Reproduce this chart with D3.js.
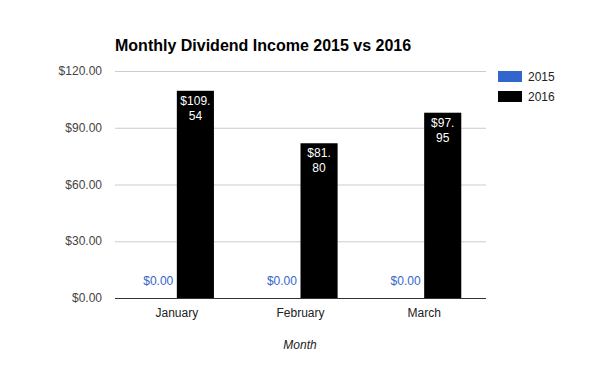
<!DOCTYPE html>
<html><head><meta charset="utf-8">
<script src="https://cdn.jsdelivr.net/npm/d3@7"></script>
<style>body{margin:0;background:#fff}svg{display:block;font-family:Arial,"Liberation Sans",sans-serif}</style>
</head><body><svg id="c" width="600" height="371"></svg>
<script>
const categories = ["January", "February", "March"];
const seriesNames = ["2015", "2016"];
const values2015 = [0, 0, 0];
const values2016 = [109.54, 81.80, 97.95];
const yTicks = [0, 30, 60, 90, 120];
const colors = ["#3366cc", "#000000"];

const svg = d3.select("#c");
const m = {l: 115, r: 486, t: 71, b: 298};
const x = d3.scaleBand().domain(categories).range([m.l, m.r]).paddingInner(0.4).paddingOuter(0.2);
const x1 = d3.scaleBand().domain(seriesNames).range([0, x.bandwidth()]);
const y = d3.scaleLinear().domain([0, 120]).range([m.b, m.t]);
const fmt = v => "$" + v.toFixed(2);

// gridlines
svg.append("g").selectAll("line").data(yTicks).join("line")
  .attr("x1", m.l).attr("x2", m.r).attr("y1", d => y(d) + 0.5).attr("y2", d => y(d) + 0.5)
  .attr("stroke", d => d === 0 ? "#333" : "#ccc").attr("stroke-width", 1);

// y axis labels
svg.append("g").selectAll("text").data(yTicks).join("text")
  .attr("x", 102).attr("y", d => y(d) + 4).attr("text-anchor", "end")
  .attr("font-size", 12).attr("fill", "#444").text(fmt);

const data = categories.map((c, i) => ({c, vals: [values2015[i], values2016[i]]}));
const g = svg.append("g").selectAll("g").data(data).join("g")
  .attr("transform", d => `translate(${x(d.c)},0)`);
g.selectAll("rect").data(d => d.vals.map((v, j) => ({v, s: seriesNames[j], j})))
  .join("rect")
  .attr("x", d => x1(d.s)).attr("width", x1.bandwidth())
  .attr("y", d => y(d.v)).attr("height", d => y(0) - y(d.v))
  .attr("fill", d => colors[d.j]);

// labels
g.each(function(d) {
  const sel = d3.select(this);
  // 2015 zero labels
  sel.append("text").attr("x", x1("2015") + x1.bandwidth() / 2).attr("y", y(0) - 13)
    .attr("text-anchor", "middle").attr("font-size", 12).attr("fill", "#3366cc")
    .text(fmt(d.vals[0]));
  const s = fmt(d.vals[1]);
  const dot = s.indexOf(".") + 1;
  const t = sel.append("text").attr("text-anchor", "middle").attr("font-size", 12).attr("fill", "#fff");
  const cx = x1("2016") + x1.bandwidth() / 2;
  t.append("tspan").attr("x", cx).attr("y", y(d.vals[1]) + 14).text(s.slice(0, dot));
  t.append("tspan").attr("x", cx).attr("y", y(d.vals[1]) + 29).text(s.slice(dot));
});

// x labels
svg.append("g").selectAll("text").data(categories).join("text")
  .attr("x", d => x(d) + x.bandwidth() / 2).attr("y", 317).attr("text-anchor", "middle")
  .attr("font-size", 12).attr("fill", "#222").text(d => d);

svg.append("text").attr("x", 300).attr("y", 349).attr("text-anchor", "middle")
  .attr("font-size", 12).attr("font-style", "italic").attr("fill", "#222").text("Month");

svg.append("text").attr("x", 115).attr("y", 51).attr("font-size", 16).attr("font-weight", "bold")
  .attr("fill", "#000").text("Monthly Dividend Income 2015 vs 2016");

// legend
const lg = svg.append("g").selectAll("g").data(seriesNames).join("g")
  .attr("transform", (d, i) => `translate(498,${71 + i * 20})`);
lg.append("rect").attr("width", 24).attr("height", 11).attr("fill", (d, i) => colors[i]);
lg.append("text").attr("x", 30).attr("y", 10).attr("font-size", 12).attr("fill", "#222").text(d => d);
</script></body></html>
